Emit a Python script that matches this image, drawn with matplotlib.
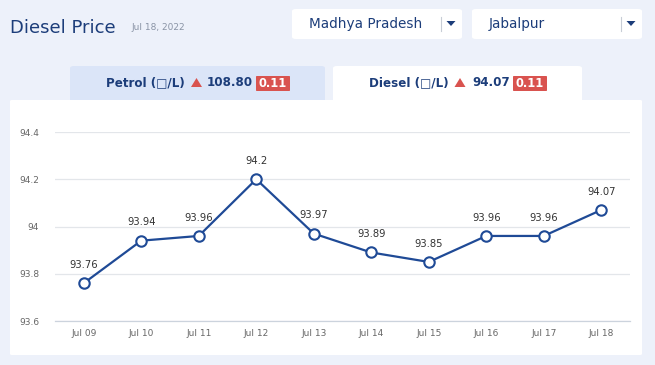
import matplotlib
matplotlib.use("Agg")
import matplotlib.pyplot as plt
from matplotlib.patches import FancyBboxPatch, Polygon

dates = ["Jul 09", "Jul 10", "Jul 11", "Jul 12", "Jul 13", "Jul 14", "Jul 15", "Jul 16", "Jul 17", "Jul 18"]
prices = [93.76, 93.94, 93.96, 94.2, 93.97, 93.89, 93.85, 93.96, 93.96, 94.07]
price_labels = ["93.76", "93.94", "93.96", "94.2", "93.97", "93.89", "93.85", "93.96", "93.96", "94.07"]
y_ticks = [93.6, 93.8, 94.0, 94.2, 94.4]
y_tick_labels = ["93.6", "93.8", "94", "94.2", "94.4"]

W, H = 655, 365
fig = plt.figure(figsize=(W / 100, H / 100), dpi=100)
fig.patch.set_facecolor("#edf1fa")

def fx(px):
    return px / W

def fy(py):
    return 1 - py / H

def box(x0, y0, x1, y1, color, r=3, z=0):
    p = FancyBboxPatch((fx(x0), fy(y1)), fx(x1) - fx(x0), fy(y0) - fy(y1),
                       boxstyle=f"round,pad=0,rounding_size={r / W}",
                       transform=fig.transFigure, facecolor=color, edgecolor="none", zorder=z)
    fig.patches.append(p)

def tri(xc, yc, w, h, color, down=False):
    if down:
        pts = [(xc - w / 2, yc - h / 2), (xc + w / 2, yc - h / 2), (xc, yc + h / 2)]
    else:
        pts = [(xc - w / 2, yc + h / 2), (xc + w / 2, yc + h / 2), (xc, yc - h / 2)]
    p = Polygon([(fx(a), fy(b)) for a, b in pts], closed=True, transform=fig.transFigure,
                facecolor=color, edgecolor="none", zorder=3)
    fig.patches.append(p)

DARK = "#1c3d7a"
RED = "#d9534f"

# Header
fig.text(fx(10), fy(28), "Diesel Price", fontsize=13, color=DARK, va="center", ha="left")
fig.text(fx(131), fy(28), "Jul 18, 2022", fontsize=6.5, color="#8a94a6", va="center", ha="left")

# Dropdowns
box(292, 9, 462, 39, "white", r=4)
box(472, 9, 642, 39, "white", r=4)
fig.text(fx(309), fy(24), "Madhya Pradesh", fontsize=9.8, color=DARK, va="center", ha="left")
fig.text(fx(489), fy(24), "Jabalpur", fontsize=9.8, color=DARK, va="center", ha="left")
for xs, xt in [(441, 451), (621, 631)]:
    fig.lines.append(plt.Line2D([fx(xs), fx(xs)], [fy(17), fy(31)], transform=fig.transFigure,
                                color="#c8cdd6", lw=0.8))
    tri(xt, 23.5, 9, 5, DARK, down=True)

# Tabs
box(70, 66, 325, 103, "#dbe5f8", r=4)
box(333, 66, 582, 103, "white", r=4)
# Main white panel
box(10, 100, 642, 355, "white", r=2, z=0.5)

TF = 8.6
# Petrol tab
fig.text(fx(106), fy(83), "Petrol (□/L)", fontsize=TF, fontweight="bold", color=DARK, va="center", ha="left")
tri(196.5, 82.5, 11, 9, RED)
fig.text(fx(207), fy(83), "108.80", fontsize=TF, fontweight="bold", color=DARK, va="center", ha="left")
box(256, 76, 290, 91, RED, r=1)
fig.text(fx(273), fy(83.5), "0.11", fontsize=8.3, fontweight="bold", color="white", va="center", ha="center")

# Diesel tab
fig.text(fx(369), fy(83), "Diesel (□/L)", fontsize=TF, fontweight="bold", color=DARK, va="center", ha="left")
tri(460, 82.5, 11, 9, RED)
fig.text(fx(472), fy(83), "94.07", fontsize=TF, fontweight="bold", color=DARK, va="center", ha="left")
box(513, 76, 547, 91, RED, r=1)
fig.text(fx(530), fy(83.5), "0.11", fontsize=8.3, fontweight="bold", color="white", va="center", ha="center")

# Chart axes
ax = fig.add_axes([fx(55), fy(321), fx(630) - fx(55), fy(132) - fy(321)])
ax.set_facecolor("none")
ax.set_zorder(2)
x = list(range(len(dates)))
ax.plot(x, prices, color="#1f4a96", lw=1.6, marker="o", ms=7.5, mfc="white",
        mec="#1f4a96", mew=1.5, zorder=3, clip_on=False)
for xi, v, lab in zip(x, prices, price_labels):
    ax.annotate(lab, (xi, v), xytext=(0, 9.5), textcoords="offset points",
                ha="center", va="bottom", fontsize=7.2, color="#333333")
ax.set_xlim(-0.5, len(dates) - 0.5)
ax.set_ylim(93.6, 94.4)
ax.set_xticks(x)
ax.set_xticklabels(dates)
ax.set_yticks(y_ticks)
ax.set_yticklabels(y_tick_labels)
ax.tick_params(axis="both", length=0, labelsize=6.5, labelcolor="#666666")
ax.tick_params(axis="x", pad=6)
ax.tick_params(axis="y", pad=11.5)
ax.grid(axis="y", color="#e3e6ea", lw=0.9)
ax.grid(axis="x", visible=False)
for s in ["top", "right", "left"]:
    ax.spines[s].set_visible(False)
ax.spines["bottom"].set_color("#ccd3dd")
ax.spines["bottom"].set_linewidth(0.9)
ax.set_axisbelow(True)

fig.savefig("out.png", dpi=100, facecolor=fig.get_facecolor())
